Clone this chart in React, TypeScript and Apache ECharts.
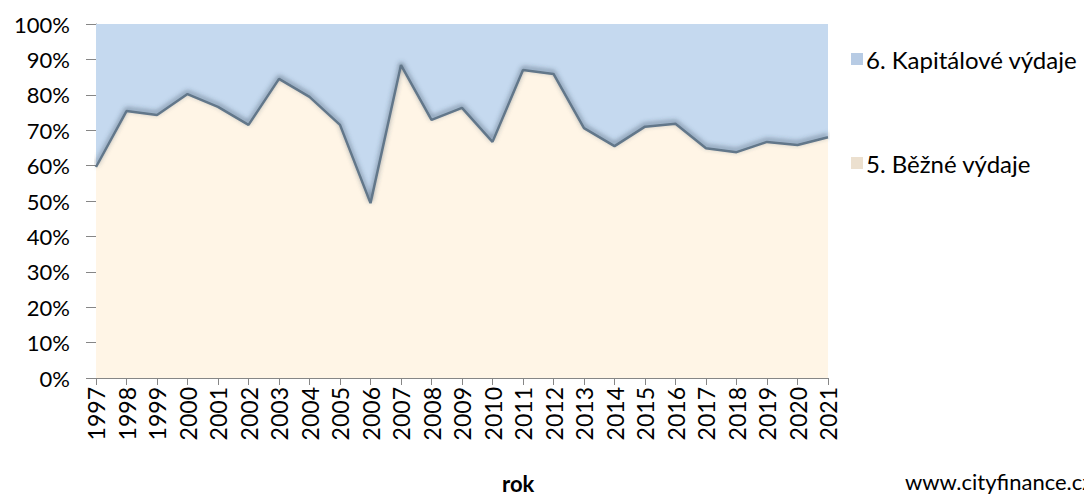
import React, { useEffect, useRef } from "react";
import * as echarts from "echarts";

const years = ["1997","1998","1999","2000","2001","2002","2003","2004","2005","2006","2007","2008","2009","2010","2011","2012","2013","2014","2015","2016","2017","2018","2019","2020","2021"];
const bezneShare = [59.6,75.4,74.3,80.2,76.6,71.5,84.5,79.4,71.5,49.4,88.4,72.9,76.3,66.7,87.0,85.9,70.6,65.5,71.0,71.8,64.9,63.8,66.7,65.8,68.0];
const kapitaloveShare = bezneShare.map((v) => +(100 - v).toFixed(1));
const yTicks = [0, 10, 20, 30, 40, 50, 60, 70, 80, 90, 100];

const FONT = "Lato, 'Open Sans', sans-serif";

export default function App() {
  const ref = useRef<HTMLDivElement>(null);
  useEffect(() => {
    if (!ref.current) return;
    const chart = echarts.init(ref.current, null, { renderer: "svg" });
    chart.setOption({
      animation: false,
      backgroundColor: "#ffffff",
      grid: { left: 96, right: 264, top: 24, bottom: 118, containLabel: false },
      legend: {
        orient: "vertical",
        left: 846,
        top: 42,
        itemGap: 80,
        itemWidth: 12,
        itemHeight: 12,
        icon: "rect",
        data: ["6. Kapitálové výdaje", "5. Běžné výdaje"],
        textStyle: { fontFamily: FONT, fontSize: 24, color: "#000", padding: [0, 0, 0, -2] },
      },
      xAxis: {
        type: "category",
        data: years,
        boundaryGap: false,
        axisLine: { lineStyle: { color: "#868686" } },
        axisTick: { alignWithLabel: true, length: 7, lineStyle: { color: "#868686" }, interval: 0 },
        axisLabel: { rotate: 90, interval: 0, fontFamily: FONT, fontSize: 23, color: "#000", margin: 9 },
      },
      yAxis: {
        type: "value",
        min: 0,
        max: 100,
        interval: 10,
        axisLine: { show: true, lineStyle: { color: "#868686" } },
        axisTick: { show: true, length: 10, lineStyle: { color: "#868686" } },
        splitLine: { show: false },
        axisLabel: {
          fontFamily: FONT,
          fontSize: 22,
          color: "#000",
          margin: 26,
          formatter: (v: number) => (yTicks.includes(v) ? v + "%" : ""),
        },
      },
      series: [
        {
          name: "5. Běžné výdaje",
          type: "line",
          stack: "total",
          data: bezneShare,
          symbol: "none",
          lineStyle: { color: "#62778a", width: 2.5, shadowColor: "rgba(50,70,90,0.7)", shadowBlur: 5, shadowOffsetY: -2 },
          areaStyle: { color: "#fff5e6", opacity: 1 },
          itemStyle: { color: "#ece0cf", borderColor: "#b9a995" },
          z: 3,
        },
        {
          name: "6. Kapitálové výdaje",
          type: "line",
          stack: "total",
          data: kapitaloveShare,
          symbol: "none",
          lineStyle: { width: 0 },
          areaStyle: { color: "#c5d9ef", opacity: 1 },
          itemStyle: { color: "#b7cbe4", borderColor: "#8fa6c2" },
          z: 2,
        },
        {
          name: "highlight",
          type: "line",
          data: bezneShare,
          symbol: "none",
          silent: true,
          lineStyle: { color: "rgba(255,255,255,0)", width: 3, shadowColor: "rgba(255,255,255,0.95)", shadowBlur: 3, shadowOffsetY: 5 },
          z: 4,
        },
      ],
      graphic: [
        {
          type: "text",
          left: 502,
          top: 472,
          style: { text: "rok", fontFamily: FONT, fontSize: 22, fontWeight: "bold", fill: "#000" },
        },
        {
          type: "text",
          left: 905,
          top: 470,
          style: { text: "www.cityfinance.cz", fontFamily: FONT, fontSize: 22, fill: "#000" },
        },
      ],
    });
    return () => chart.dispose();
  }, []);
  return <div ref={ref} style={{ width: 1092, height: 496, marginLeft: -8, marginTop: -8 }} />;
}
